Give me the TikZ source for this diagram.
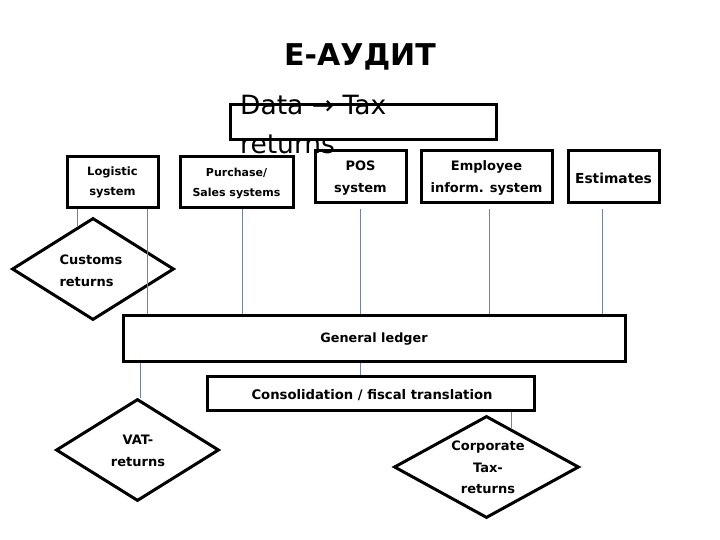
\documentclass[tikz,border=0pt]{standalone}
\usepackage{fontspec}
\setmainfont{DejaVu Sans}
\usetikzlibrary{shapes.geometric,calc}
\definecolor{conn}{HTML}{748496}
\tikzset{
  box/.style={draw=black,line width=3pt,rectangle,inner sep=0pt},
  dia/.style={draw=black,line width=3pt,diamond,inner sep=0pt},
  lbl/.style={font=\bfseries\fontsize{13}{21.5}\selectfont,align=center,inner sep=0pt},
  sml/.style={font=\bfseries\fontsize{11.5}{20}\selectfont,align=center,inner sep=0pt},
  conline/.style={draw=conn,line width=0.8pt}
}
\begin{document}
\begin{tikzpicture}[x=1pt,y=-1pt]
\useasboundingbox (0,0) rectangle (720,540);
\fill[white] (0,0) rectangle (720,540);
% title
\node[font=\bfseries\fontsize{30}{36}\selectfont,inner sep=0pt] (title) at (360,57) {Е-АУДИТ};
% data box
\node[box,minimum width=266pt,minimum height=35pt] (databox) at (363,122.5) {};
\node[anchor=base west,inner sep=0pt,font=\fontsize{26.5}{30}\selectfont] (data1) at (240,115) {Data → Tax};
\node[anchor=base west,inner sep=0pt,font=\fontsize{26.5}{30}\selectfont] (data2) at (240,154) {returns};
% top boxes
\node[box,minimum width=91pt,minimum height=51pt] (log) at (112.5,182.5) {};
\node[sml] (logt) at (112.5,182.5) {Logistic\\system};
\node[box,minimum width=113pt,minimum height=51pt] (pur) at (236.5,182.5) {};
\node[font=\bfseries\fontsize{11}{19.5}\selectfont,align=center,inner sep=0pt] (purt) at (236.5,183.5) {Purchase/\\Sales systems};
\node[box,minimum width=91pt,minimum height=52pt] (pos) at (360.5,177) {};
\node[lbl] (post) at (360.5,178) {POS\\system};
\node[box,minimum width=131pt,minimum height=52pt] (emp) at (486.5,177) {};
\node[lbl] (empt) at (486.5,178) {Employee\\inform. system};
\node[box,minimum width=91pt,minimum height=52pt] (est) at (613.5,177) {};
\node[font=\bfseries\fontsize{13.8}{20}\selectfont,inner sep=0pt] (estt) at (613.5,178) {Estimates};
% customs
\node[dia,minimum width=162pt,minimum height=102pt] (cust) at (93,269) {};
\node[lbl,align=left] (custt) at (91,271) {Customs\\returns};
% ledger
\node[box,minimum width=502pt,minimum height=46pt] (led) at (374,338) {};
\node[font=\bfseries\fontsize{12.8}{14}\selectfont,inner sep=0pt] (ledt) at (374,339) {General ledger};
% consolidation
\node[box,minimum width=327pt,minimum height=34pt] (cons) at (371,393.5) {};
\node[font=\bfseries\fontsize{13.2}{16}\selectfont,inner sep=0pt] (const) at (372,395) {Consolidation / fiscal translation};
% VAT
\node[dia,minimum width=163pt,minimum height=102pt] (vat) at (137.5,450) {};
\node[lbl] (vatt) at (138,451) {VAT-\\returns};
% corporate
\node[dia,minimum width=185pt,minimum height=102pt] (corp) at (486.5,467) {};
\node[lbl] (corpt) at (488,467.5) {Corporate\\Tax-\\returns};
% connectors
\coordinate (custtop) at ($(cust.north)!0.185!(cust.west)$);
\draw[conline] (custtop) -- (custtop |- log.south);
\draw[conline] ([xshift=34.5pt]log.south) -- ([xshift=34.5pt]log.south |- led.north);
\draw[conline] ([xshift=5.5pt]pur.south) -- ([xshift=5.5pt]pur.south |- led.north);
\draw[conline] ([yshift=-5pt]pos.south) -- (pos.south |- led.north);
\draw[conline] ([xshift=2.5pt,yshift=-5pt]emp.south) -- ([xshift=2.5pt]emp.south |- led.north);
\draw[conline] ([xshift=-11.5pt,yshift=-5pt]est.south) -- ([xshift=-11.5pt]est.south |- led.north);
\draw[conline] ([xshift=-14pt]led.south) -- ([xshift=-14pt]led.south |- cons.north);
\draw[conline] ([xshift=2.5pt]vat.north) -- ([xshift=2.5pt]vat.north |- led.south);
\coordinate (corptop) at ($(corp.north)!0.265!(corp.east)$);
\draw[conline] (corptop) -- (corptop |- cons.south);
\end{tikzpicture}
\end{document}
